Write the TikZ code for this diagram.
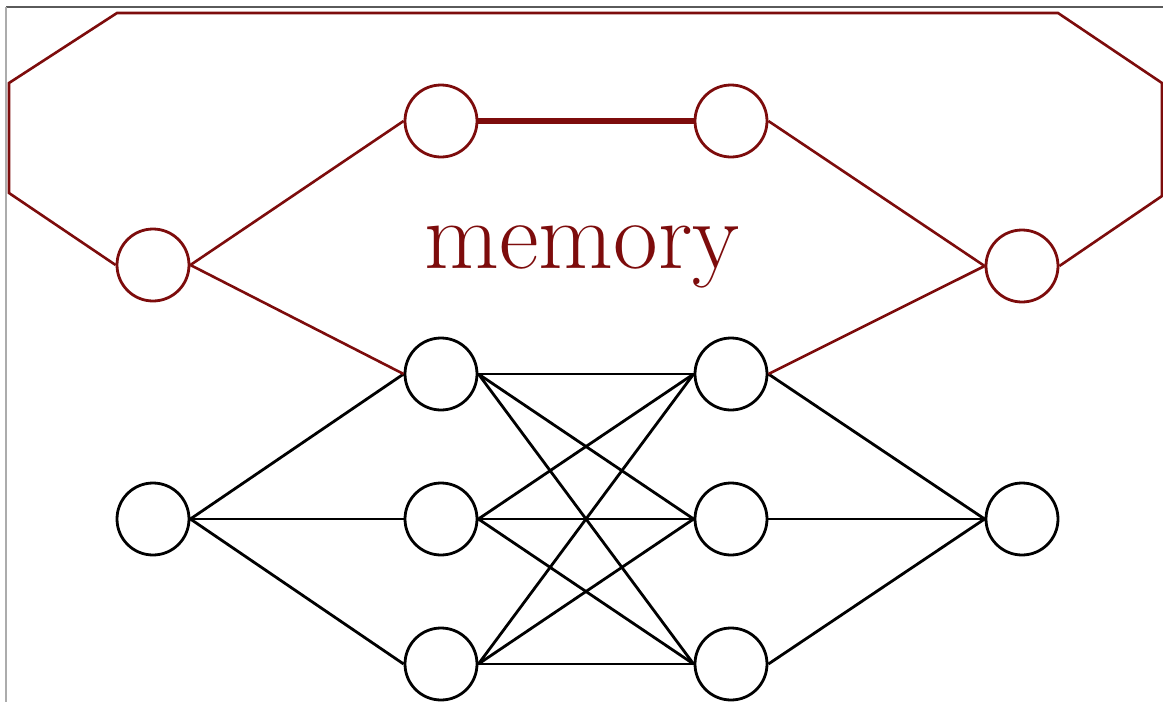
\documentclass[tikz,border=0pt]{standalone}
\definecolor{memred}{RGB}{125,12,12}
\definecolor{framegray}{RGB}{90,90,90}
\begin{document}
\begin{tikzpicture}[x=1pt,y=-1pt,
  neuron/.style={circle,draw=black,line width=2.8pt,minimum size=72pt,inner sep=0pt,fill=white},
  memneuron/.style={circle,draw=memred,line width=2.8pt,minimum size=72pt,inner sep=0pt,fill=white},
  wire/.style={draw=black,line width=2.8pt},
  memwire/.style={draw=memred,line width=2.6pt,line join=miter},
  thickwire/.style={draw=memred,line width=5.5pt}]
\useasboundingbox (0,0) rectangle (1163,702);
\fill[white] (0,0) rectangle (1163,702);
% screenshot frame
\draw[framegray,line width=2.5pt] (6,7) -- (1163,7);
\draw[framegray!50,line width=1.5pt] (6,7) -- (6,702);
% nodes
\node[memneuron] (ml)  at (153,265) {};
\node[memneuron] (mtl) at (441,121) {};
\node[memneuron] (mtr) at (731,121) {};
\node[memneuron] (mr)  at (1022,266) {};
\node[neuron] (in)  at (153,519) {};
\node[neuron] (h1a) at (441,374) {};
\node[neuron] (h1b) at (441,519) {};
\node[neuron] (h1c) at (441,664) {};
\node[neuron] (h2a) at (731,374) {};
\node[neuron] (h2b) at (731,519) {};
\node[neuron] (h2c) at (731,664) {};
\node[neuron] (out) at (1022,519) {};
\coordinate (p1) at (1162,196);
\coordinate (p2) at (1162,83);
\coordinate (p3) at (1058,13);
\coordinate (p4) at (117,13);
\coordinate (p5) at (9,83);
\coordinate (p6) at (9,193);
% label
\node[anchor=base,text=memred,inner sep=0pt,font=\fontsize{97}{110}\selectfont] (lbl) at (582,268) {memory};
% black edges
\foreach \h in {h1a,h1b,h1c} {\draw[wire] (in.east) -- (\h.west);}
\foreach \a in {h1a,h1b,h1c} {\foreach \b in {h2a,h2b,h2c} {\draw[wire] (\a.east) -- (\b.west);}}
\foreach \h in {h2a,h2b,h2c} {\draw[wire] (\h.east) -- (out.west);}
% memory edges
\draw[memwire] (ml.east) -- (mtl.west);
\draw[memwire] (ml.east) -- (h1a.west);
\draw[thickwire] (mtl.east) -- (mtr.west);
\draw[memwire] (mtr.east) -- (mr.west);
\draw[memwire] (h2a.east) -- (mr.west);
\draw[memwire] (mr.east) -- (p1) -- (p2) -- (p3) -- (p4) -- (p5) -- (p6) -- (ml.west);
\end{tikzpicture}
\end{document}
